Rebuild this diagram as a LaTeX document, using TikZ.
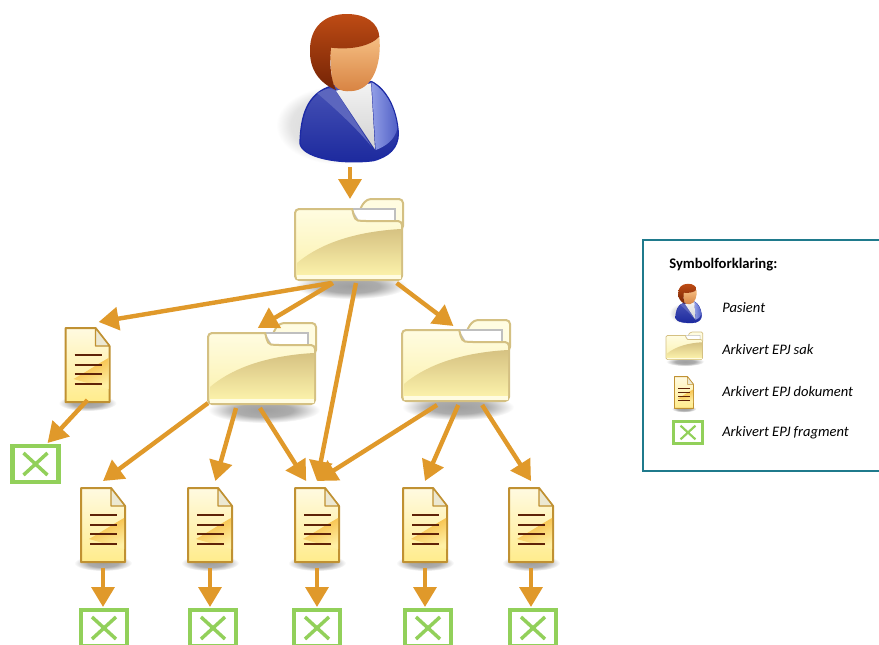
\documentclass[tikz,border=0pt]{standalone}
\usepackage{fontspec}
\setmainfont{Carlito}
\usetikzlibrary{arrows.meta}
\definecolor{pil}{RGB}{224, 153, 42}
\definecolor{ramme}{RGB}{31, 122, 140}
\definecolor{fragment}{RGB}{146, 208, 90}
\definecolor{mappekant}{RGB}{212, 192, 130}
\definecolor{mappelys}{RGB}{255, 252, 225}
\definecolor{mappemid}{RGB}{251, 241, 170}
\definecolor{mappemork}{RGB}{214, 194, 130}
\definecolor{dokkant}{RGB}{192, 145, 50}
\definecolor{doklys}{RGB}{255, 250, 225}
\definecolor{dokgul}{RGB}{255, 236, 140}
\definecolor{dokoransje}{RGB}{245, 180, 50}
\definecolor{doklinje}{RGB}{95, 35, 8}
\definecolor{hartopp}{RGB}{190, 75, 20}
\definecolor{harbunn}{RGB}{115, 35, 5}
\definecolor{hudlys}{RGB}{245, 190, 130}
\definecolor{hudmork}{RGB}{215, 130, 65}
\definecolor{jakke}{RGB}{28, 42, 165}
\definecolor{jakkelys}{RGB}{125, 140, 225}
\pgfdeclareradialshading{skygge}{\pgfpointorigin}{color(0bp)=(gray!75); color(13bp)=(gray!65); color(25bp)=(white); color(50bp)=(white)}
\pgfdeclareradialshading{personskygge}{\pgfpointorigin}{color(0bp)=(gray!35); color(19bp)=(gray!22); color(25bp)=(white); color(50bp)=(white)}
\tikzset{
  pilstrek/.style={pil, line width=3.3pt, -{Triangle[length=15pt,width=17pt]}},
  ikonboks/.style={inner sep=0pt, outer sep=0pt},
  sakboks/.style={ikonboks, minimum width=81pt, minimum height=60pt},
  dokboks/.style={ikonboks, minimum width=33pt, minimum height=65.25pt},
  fragboks/.style={ikonboks, minimum width=37pt, minimum height=30pt},
  forklaring/.style={anchor=west, inner sep=0pt, font=\fontsize{10.9pt}{12pt}\selectfont\itshape},
  pics/pasientpic/.style={code={
    \begin{scope}[scale=#1/3, shift={(-270,-255)}]
      \shade[shading=personskygge] (232,375) ellipse (184 and 117);
      \shade[top color=jakke!80!white, bottom color=jakke!95!black, draw=jakke, line width=#1*1pt]
        (215,258) .. controls (140,280) and (122,350) .. (120,430)
        .. controls (125,470) and (230,495) .. (340,482)
        .. controls (385,470) and (415,445) .. (415,400)
        .. controls (410,320) and (375,265) .. (335,245) -- cycle;
      \fill[jakke!72!white] (172,280) .. controls (195,268) and (205,262) .. (225,270)
        -- (335,440) .. controls (290,385) and (225,325) .. (172,280) -- cycle;
      \shade[left color=jakkelys!85!white, right color=jakkelys!55!jakke] (335,247)
        .. controls (375,270) and (405,320) .. (412,385)
        .. controls (405,420) and (375,440) .. (347,450) -- cycle;
      \shade[top color=gray!10, bottom color=gray!35] (228,272) -- (333,250) -- (345,448) -- cycle;
      \shade[top color=hudlys, bottom color=hudmork] (210,135)
        .. controls (270,150) and (330,140) .. (358,110)
        .. controls (365,180) and (345,260) .. (285,272)
        .. controls (250,278) and (225,270) .. (215,240) -- cycle;
      \shade[top color=hartopp, bottom color=harbunn] (228,270)
        .. controls (180,250) and (148,210) .. (150,150)
        .. controls (150,80) and (195,42) .. (260,42)
        .. controls (320,42) and (355,70) .. (358,110)
        .. controls (330,140) and (270,150) .. (213,143)
        .. controls (208,190) and (212,240) .. (228,270) -- cycle;
    \end{scope}}},
  pics/mappepic/.style={code={
    \begin{scope}[scale=#1]
      \shade[shading=skygge] (2,46) ellipse (56 and 13);
      \filldraw[mappekant, fill=mappelys, line width=#1*1.5pt, rounded corners=#1*3pt]
        (11,-10) -- (11,-32) -- (18,-41) -- (54,-41) -- (54,-10) -- cycle;
      \filldraw[gray!50, fill=white, line width=#1*1.2pt] (2,-31) -- (46,-31) -- (46,-16) -- (11,-16) -- cycle;
      \shade[top color=mappelys, bottom color=mappemid, draw=mappekant, line width=#1*1.5pt, rounded corners=#1*3pt]
        (-54,0) -- (-54,-31) -- (-1,-31) .. controls (4,-31) and (4,-20) .. (13,-19)
        -- (53,-19) -- (53,40) -- (-54,40) -- cycle;
      \shade[top color=mappemork, bottom color=mappemid]
        (-52,23) .. controls (-25,0) and (15,-9) .. (52,-11) -- (52,35) -- (-52,35) -- cycle;
      \fill[mappelys] (-52,35) rectangle (52,38.5);
    \end{scope}}},
  pics/dokpic/.style={code={
    \begin{scope}[scale=#1]
      \shade[shading=skygge] (0,38) ellipse (29 and 8);
      \shade[top color=doklys, bottom color=dokgul, draw=dokkant, line width=#1*1.5pt, line join=round]
        (-22,-37) -- (8,-37) -- (22,-19) -- (22,37) -- (-22,37) -- cycle;
      \shade[top color=dokoransje, bottom color=dokgul!70!doklys, shading angle=25]
        (-14,14) .. controls (0,6) and (12,-2) .. (21,-7) -- (21,24) -- cycle;
      \filldraw[dokkant, fill=doklys!85!gray, line width=#1*1pt, line join=round] (8,-37) -- (8,-19) -- (22,-19) -- cycle;
      \foreach \linjey in {-10,0,9,19}
        \draw[doklinje, line width=#1*2.1pt] (-13,\linjey) -- (14,\linjey);
    \end{scope}}},
  pics/fragpic/.style={code={
    \begin{scope}[scale=#1]
      \draw[fragment, line width=#1*3.3pt] (-23,-18) rectangle (23,18);
      \draw[fragment, line width=#1*2.6pt] (-12,-11) -- (12,11) (-12,11) -- (12,-11);
    \end{scope}}}
}
\begin{document}
\begin{tikzpicture}[x=0.75pt, y=-0.75pt]
  \clip (0,0) rectangle (879,644);
  \fill[white] (0,0) rectangle (879,644);

  \draw[ramme, line width=1.2pt, fill=white] (643,240) rectangle (890,471);

  \pic at (350,85) {pasientpic=1};
  \pic at (349,240) {mappepic=1};
  \pic at (262,364) {mappepic=1};
  \pic at (456,361) {mappepic=1};
  \pic at (87.5,365) {dokpic=1};
  \foreach \dokx in {103,210,317,425,531}
    \pic at (\dokx,525) {dokpic=1};
  \pic at (35.5,464) {fragpic=1};
  \foreach \fragx in {104,213,317,428,533}
    \pic at (\fragx,628) {fragpic=1};

  \node[ikonboks, minimum width=75pt, minimum height=112.5pt] (pasient) at (350,92) {};
  \node[sakboks, minimum height=63pt] (sak0) at (350,241) {};
  \node[sakboks] (sak1) at (262,368) {};
  \node[sakboks, minimum height=59.25pt] (sak2) at (455.5,365.5) {};
  \node[dokboks, minimum height=58.5pt] (dokL) at (87.5,361) {};
  \node[dokboks] (dok1) at (103,524.5) {};
  \node[dokboks] (dok2) at (210,524.5) {};
  \node[dokboks] (dok3) at (317,524.5) {};
  \node[dokboks] (dok4) at (425,524.5) {};
  \node[dokboks] (dok5) at (531,524.5) {};
  \node[fragboks] (fragL) at (36,463) {};
  \node[fragboks] (frag1) at (104,627) {};
  \node[fragboks] (frag2) at (213,627) {};
  \node[fragboks] (frag3) at (317,627) {};
  \node[fragboks] (frag4) at (428,627) {};
  \node[fragboks] (frag5) at (533,627) {};

  \draw[pilstrek] (pasient.south) -- (sak0.north);
  \draw[pilstrek] (sak0.-114) -- (dokL.74);
  \draw[pilstrek] (sak0.-112) -- (sak1.96);
  \draw[pilstrek] (sak0.-82) -- (dok3.north);
  \draw[pilstrek] (sak0.-42) -- (sak2.93);
  \draw[pilstrek] (sak1.213) -- (dok1.north);
  \draw[pilstrek] (sak1.-123) -- (dok2.83);
  \draw[pilstrek] (sak1.-93) -- (dok3.104);
  \draw[pilstrek] (sak2.-115) -- (dok3.north);
  \draw[pilstrek] (sak2.-86) -- (dok4.north);
  \draw[pilstrek] (sak2.-56) -- (dok5.north);
  \draw[pilstrek] (dokL.south) -- (fragL.60);
  \foreach \tall in {1,...,5}
    \draw[pilstrek] (dok\tall.south) -- (frag\tall.north -| dok\tall.south);

  \node[anchor=west, inner sep=0pt, font=\fontsize{11pt}{12pt}\selectfont\bfseries] (tittel) at (669,265) {Symbolforklaring:};
  \pic at (688.8,302.6) {pasientpic=0.265};
  \pic at (684.4,346) {mappepic=0.34};
  \pic at (684,392.5) {dokpic=0.43};
  \pic at (688,432.5) {fragpic=0.62};
  \node[forklaring] (fkpasient) at (722,308) {Pasient};
  \node[forklaring] (fksak) at (722,349) {Arkivert EPJ sak};
  \node[forklaring] (fkdok) at (722,391) {Arkivert EPJ dokument};
  \node[forklaring] (fkfrag) at (722,433) {Arkivert EPJ fragment};
\end{tikzpicture}
\end{document}
